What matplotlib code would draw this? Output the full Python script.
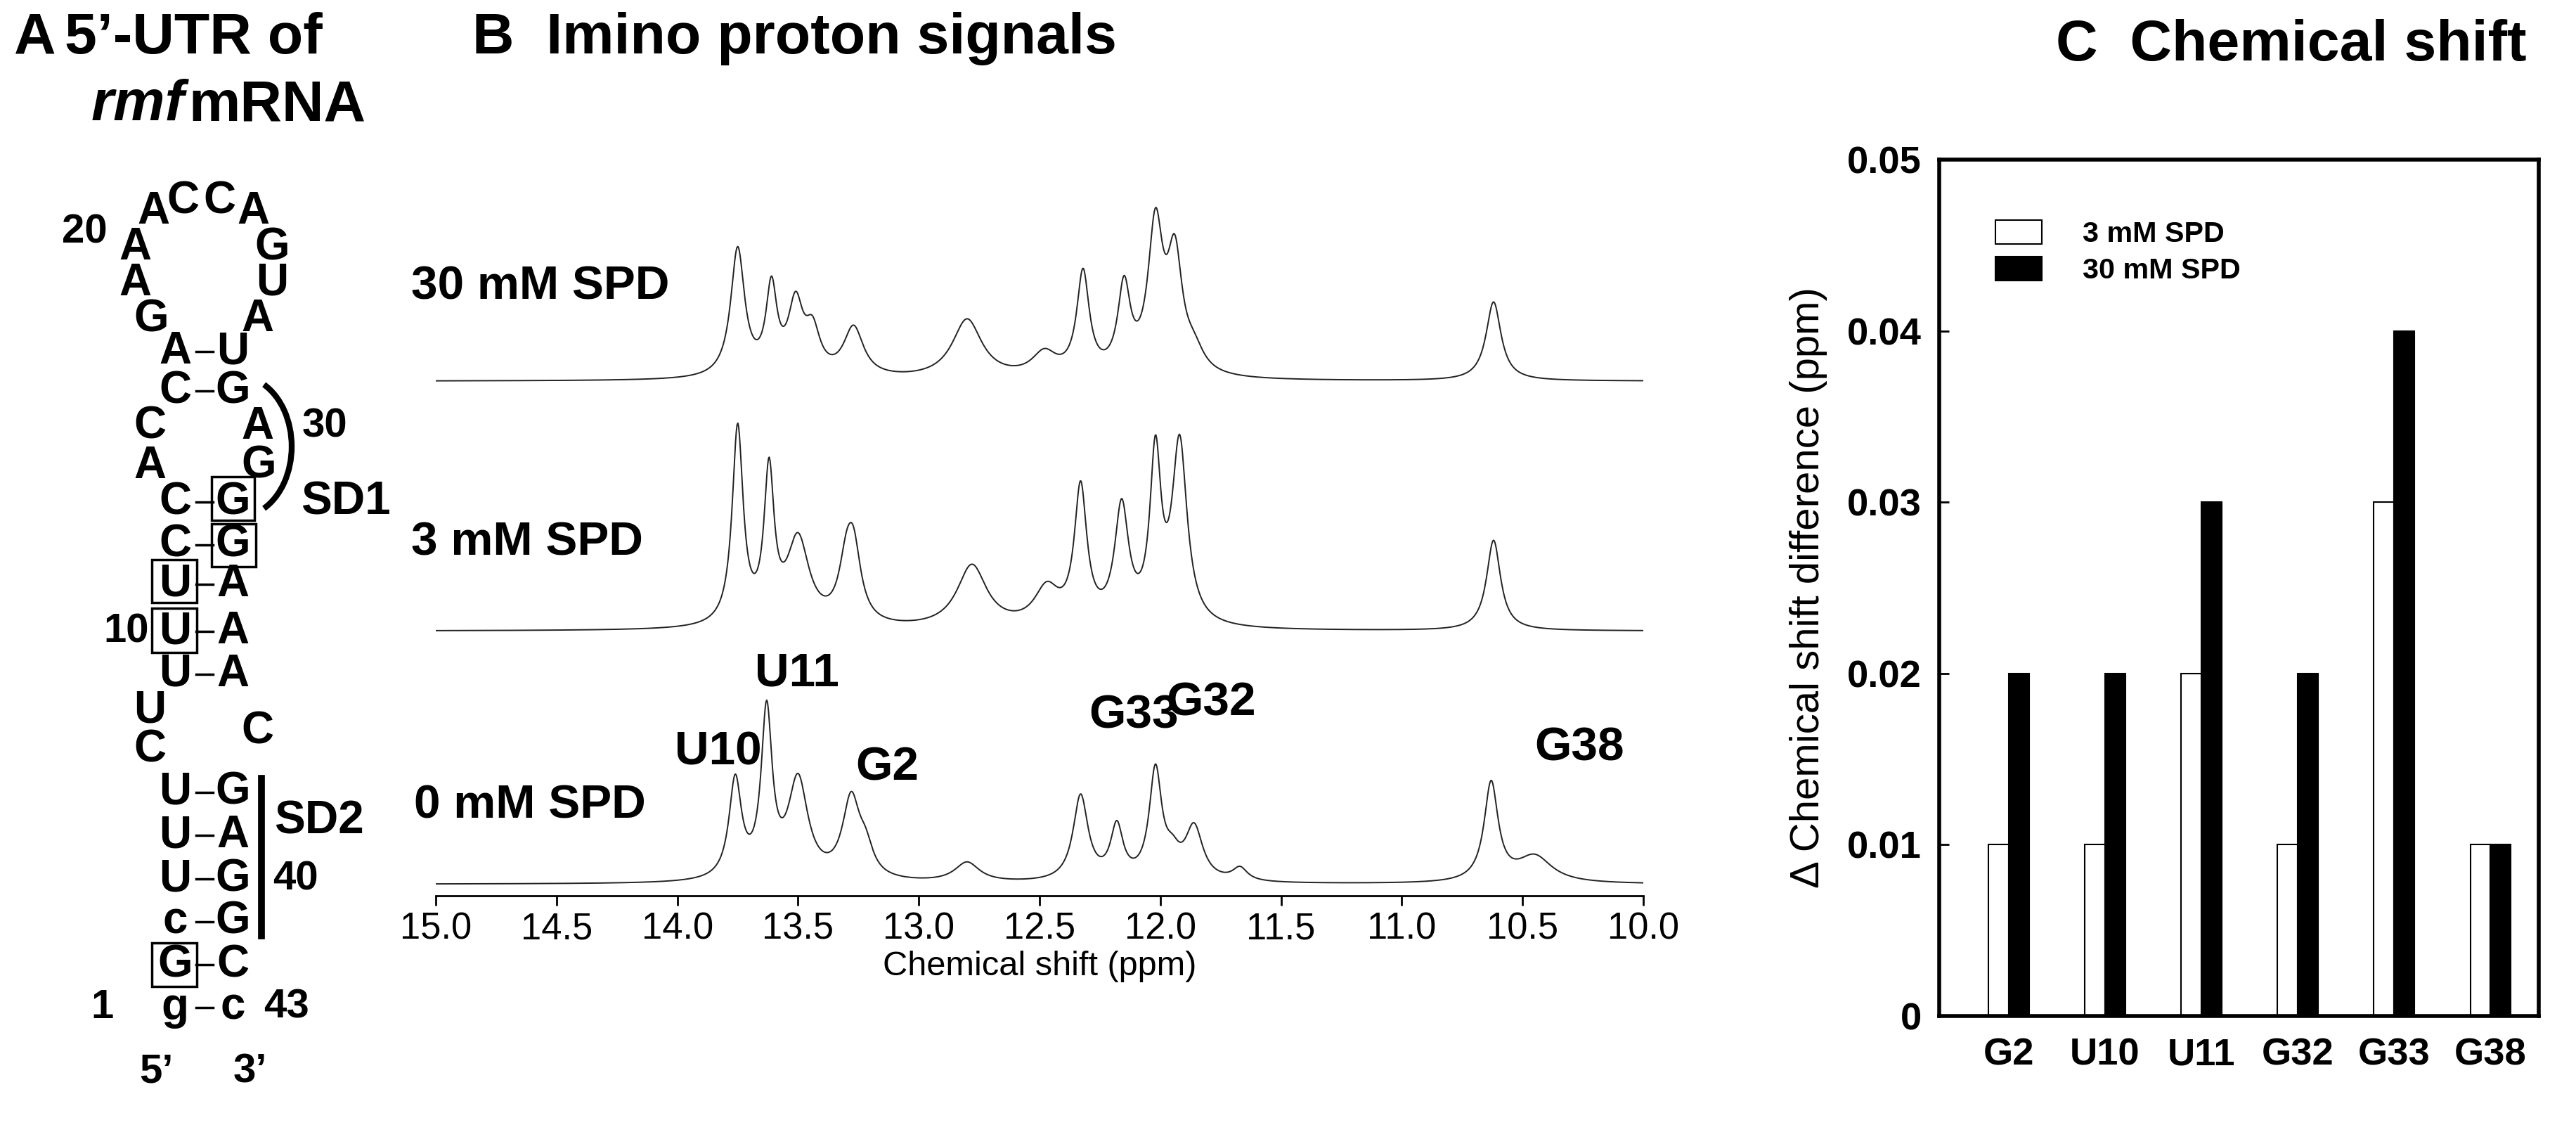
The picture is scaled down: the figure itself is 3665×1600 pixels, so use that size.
import matplotlib
matplotlib.use('Agg')
import matplotlib.pyplot as plt
from matplotlib.patches import Rectangle, Arc
import numpy as np

plt.rcParams.update({
    'font.family': ['Liberation Sans', 'DejaVu Sans'],
    'font.weight': 'bold',
})
NARROW = ['Liberation Sans Narrow', 'Liberation Sans', 'DejaVu Sans']
K = 1.35  # font scale

# ── Panel B: peak lists (ppm, height, half-width) ──
ppm_axis = np.linspace(15.0, 10.0, 1500)
peaks_0mM = [(13.76, 60, 0.025), (13.63, 100, 0.022), (13.50, 60, 0.04), (13.28, 48, 0.035),
             (13.22, 15, 0.03), (12.80, 12, 0.05), (12.33, 52, 0.03), (12.18, 32, 0.025),
             (12.02, 66, 0.025), (11.95, 12, 0.03), (11.86, 32, 0.035), (11.67, 8, 0.03),
             (10.63, 60, 0.028), (10.45, 16, 0.07)]
peaks_3mM = [(13.75, 120, 0.022), (13.62, 90, 0.02), (13.50, 52, 0.045), (13.30, 30, 0.03),
             (13.27, 40, 0.03), (12.78, 38, 0.06), (12.47, 22, 0.05), (12.33, 82, 0.025),
             (12.16, 70, 0.028), (12.02, 100, 0.022), (11.92, 110, 0.03), (10.62, 55, 0.028)]
peaks_30mM = [(13.75, 78, 0.028), (13.61, 52, 0.022), (13.51, 42, 0.03), (13.44, 25, 0.03),
              (13.27, 30, 0.04), (12.80, 36, 0.06), (12.48, 14, 0.05), (12.32, 62, 0.025),
              (12.15, 52, 0.025), (12.02, 88, 0.03), (11.94, 68, 0.03), (11.86, 12, 0.04),
              (10.62, 48, 0.03)]
baselines = {'0 mM SPD': 7, '3 mM SPD': 161, '30 mM SPD': 313}
spec_labels = ['0 mM SPD', '3 mM SPD', '30 mM SPD']
spec_peaks = [peaks_0mM, peaks_3mM, peaks_30mM]
xticks_B = [15.0, 14.5, 14.0, 13.5, 13.0, 12.5, 12.0, 11.5, 11.0, 10.5, 10.0]

# ── Panel C data ──
residues = ['G2', 'U10', 'U11', 'G32', 'G33', 'G38']
shift_3mM = [0.01, 0.01, 0.02, 0.01, 0.03, 0.01]
shift_30mM = [0.02, 0.02, 0.03, 0.02, 0.04, 0.01]

W, H = 3666, 1600
fig = plt.figure(figsize=(W / 100, H / 100), dpi=100)

def px_axes(x0, y0, x1, y1):
    return fig.add_axes([x0 / W, 1 - y1 / H, (x1 - x0) / W, (y1 - y0) / H])

# ── Panel B: spectra ──
axB = px_axes(620, 260, 2338, 1274)
axB.patch.set_visible(False)
for lab, pk in zip(spec_labels, spec_peaks):
    y = np.full_like(ppm_axis, baselines[lab], dtype=float)
    for c, h, w in pk:
        y += h / (1 + ((ppm_axis - c) / (w * 1.25)) ** 2)
    axB.plot(ppm_axis, y, color='#222222', lw=1.4)
axB.set_xlim(15.0, 10.0)
axB.set_ylim(0, (1274 - 260) / 2.338)
for s in ['left', 'right', 'top']:
    axB.spines[s].set_visible(False)
axB.spines['bottom'].set_linewidth(2)
axB.set_yticks([])
axB.set_xticks(xticks_B)
axB.set_xticklabels([f'{v:.1f}' for v in xticks_B], fontweight='normal')
axB.tick_params(axis='x', labelsize=28 * K, length=10, width=2, pad=6)
axB.set_xlabel('Chemical shift (ppm)', fontsize=26 * K, fontweight='normal', labelpad=4)

# ── Panel C: bars ──
axC = px_axes(2759, 227, 3612, 1445)
xpos = np.arange(len(residues))
bw = 0.21
axC.bar(xpos - bw / 2, shift_3mM, bw, color='white', edgecolor='black', lw=1.5, label='3 mM SPD')
axC.bar(xpos + bw / 2, shift_30mM, bw, color='black', edgecolor='black', lw=1.5, label='30 mM SPD')
axC.set_xlim(-0.72, 5.5)
axC.set_ylim(0, 0.05)
axC.set_yticks([0, 0.01, 0.02, 0.03, 0.04, 0.05])
axC.set_yticklabels(['0', '0.01', '0.02', '0.03', '0.04', '0.05'])
axC.set_xticks(xpos)
axC.set_xticklabels(residues)
axC.tick_params(axis='y', direction='in', length=10, width=2, labelsize=29 * K, pad=18)
axC.tick_params(axis='x', length=0, labelsize=29 * K, pad=22)
for s in axC.spines.values():
    s.set_linewidth(4)
axC.set_ylabel('\u0394 Chemical shift difference (ppm)', fontsize=31 * K, labelpad=20)
axC.legend(loc='upper left', bbox_to_anchor=(0.05, 0.96), frameon=False, fontsize=22 * K,
           handlelength=1.6, handleheight=0.9, labelspacing=0.3, handletextpad=1.4)

# overlay for panel A, titles and labels, in pixel coordinates
ov = fig.add_axes([0, 0, 1, 1])
ov.patch.set_visible(False)
ov.set_xlim(0, W)
ov.set_ylim(H, 0)
ov.axis('off')

def t(x, y, s, size=34, **kw):
    ov.text(x, y, s, fontsize=size * K, ha='center', va='center', fontweight='bold', **kw)

ov.text(20, 55, 'A', fontsize=44 * K, fontweight='bold', va='center')
ov.text(92, 55, '5\u2019-UTR of', fontsize=44 * K, fontweight='bold', va='center')
ov.text(130, 150, 'rmf', fontsize=44 * K, fontweight='bold', fontstyle='italic', va='center')
ov.text(268, 150, 'mRNA', fontsize=44 * K, fontweight='bold', va='center')
ov.text(672, 55, 'B  Imino proton signals', fontsize=44 * K, fontweight='bold', va='center')
ov.text(2925, 65, 'C  Chemical shift', fontsize=44 * K, fontweight='bold', va='center')

# ── Panel A: secondary structure ──
single = [(218, 301, 'A'), (260, 286, 'C'), (312, 286, 'C'), (360, 301, 'A'),
          (192, 352, 'A'), (387, 352, 'G'), (192, 403, 'A'), (387, 403, 'U'),
          (215, 454, 'G'), (366, 454, 'A'), (213, 607, 'C'), (366, 607, 'A'),
          (213, 663, 'A'), (368, 663, 'G'), (213, 1010, 'U'), (213, 1066, 'C'),
          (366, 1040, 'C')]
for x, y, s in single:
    t(x, y, s)
pairs = [(500, 'A', 'U'), (556, 'C', 'G'), (714, 'C', 'G'), (775, 'C', 'G'),
         (831, 'U', 'A'), (898, 'U', 'A'), (959, 'U', 'A'), (1127, 'U', 'G'),
         (1188, 'U', 'A'), (1250, 'U', 'G'), (1311, 'c', 'G'), (1372, 'G', 'C'),
         (1433, 'g', 'c')]
for y, l, r in pairs:
    t(249, y, l)
    t(331, y, r)
    ov.plot([279, 303], [y, y], color='black', lw=2.5)
for x0, y0, x1, y1 in [(301, 678, 362, 740), (301, 745, 364, 806), (216, 796, 280, 857),
                       (216, 865, 280, 928), (216, 1341, 280, 1403)]:
    ov.add_patch(Rectangle((x0, y0), x1 - x0, y1 - y0, fill=False, lw=2.5, ec='black'))
t(120, 330, '20', 31)
t(462, 607, '30', 31)
t(180, 898, '10', 31)
t(420, 1250, '40', 31)
t(146, 1433, '1', 31)
t(408, 1433, '43', 31)
t(222, 1525, '5\u2019', 31)
t(356, 1525, '3\u2019', 31)
t(492, 714, 'SD1', 35)
t(454, 1168, 'SD2', 35)
ov.add_patch(Arc((340, 635), 150, 200, theta1=-68, theta2=68, lw=6, color='black'))
ov.plot([372, 372], [1107, 1331], color='black', lw=7)

for x, y, s in [(585, 409, '30 mM SPD'), (585, 772, '3 mM SPD'), (589, 1146, '0 mM SPD')]:
    ov.text(x, y, s, fontsize=36 * K, fontweight='bold', va='center', family=NARROW)
for x, y, s in [(1022, 1071, 'U10'), (1134, 959, 'U11'), (1262, 1092, 'G2'),
                (1613, 1019, 'G33'), (1723, 1001, 'G32'), (2247, 1064, 'G38')]:
    ov.text(x, y, s, fontsize=36 * K, fontweight='bold', ha='center', va='center', family=NARROW)

fig.savefig('out.png', dpi=100)
